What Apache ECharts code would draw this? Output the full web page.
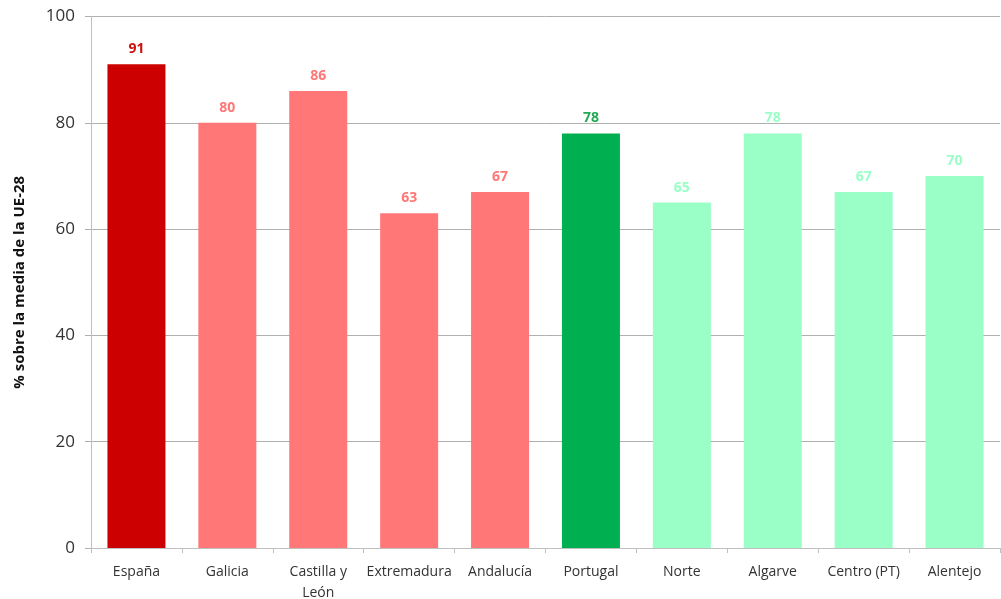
<!DOCTYPE html>
<html>
<head>
<meta charset="utf-8">
<script src="https://cdn.jsdelivr.net/npm/echarts@6/dist/echarts.min.js"></script>
<style>
  html, body { margin: 0; padding: 0; background: #fff; }
  #chart { width: 1001px; height: 599px; }
</style>
</head>
<body>
<div id="chart"></div>
<script>
// Regional GDP per capita (PPS) as % of the EU-28 average
const categories = ['España', 'Galicia', 'Castilla y\nLeón', 'Extremadura', 'Andalucía',
                    'Portugal', 'Norte', 'Algarve', 'Centro (PT)', 'Alentejo'];
const values = [91, 80, 86, 63, 67, 78, 65, 78, 67, 70];
const barColors = ['#cc0000', '#ff7777', '#ff7777', '#ff7777', '#ff7777',
                   '#00b050', '#99ffc6', '#99ffc6', '#99ffc6', '#99ffc6'];
const labelColors = ['#cc1111', '#ff7777', '#ff7777', '#ff7777', '#ff7777',
                     '#22aa55', '#99ffc6', '#99ffc6', '#99ffc6', '#99ffc6'];
const yTicks = [0, 20, 40, 60, 80, 100];

const chart = echarts.init(document.getElementById('chart'));
chart.setOption({
  animation: false,
  textStyle: { fontFamily: 'Open Sans, Liberation Sans, sans-serif' },
  grid: { left: 91, right: 1, top: 16.5, bottom: 51, outerBoundsMode: 'none', containLabel: false },
  xAxis: {
    type: 'category',
    data: categories,
    axisLine: { lineStyle: { color: '#bfbfbf', width: 1 } },
    axisTick: { show: true, length: 5, lineStyle: { color: '#bfbfbf' } },
    axisLabel: { color: '#333', fontSize: 14, margin: 14, lineHeight: 21, interval: 0 }
  },
  yAxis: {
    type: 'value',
    min: yTicks[0],
    max: yTicks[yTicks.length - 1],
    interval: 20,
    name: '% sobre la media de la UE-28',
    nameLocation: 'middle',
    nameGap: 64,
    nameTextStyle: { color: '#111', fontSize: 15, fontWeight: 'bold' },
    axisLine: { show: true, lineStyle: { color: '#bfbfbf' } },
    axisTick: { show: true, length: 6, lineStyle: { color: '#b0b0b0' } },
    axisLabel: { color: '#333', fontSize: 17, margin: 16 },
    splitLine: { lineStyle: { color: '#b0b0b0', width: 1 } }
  },
  series: [{
    type: 'bar',
    barWidth: 58,
    data: values.map((v, i) => ({
      value: v,
      itemStyle: { color: barColors[i] },
      label: { color: labelColors[i] }
    })),
    label: {
      show: true,
      position: 'top',
      distance: 8,
      fontSize: 14,
      fontWeight: 'bold'
    }
  }]
});
</script>
</body>
</html>
